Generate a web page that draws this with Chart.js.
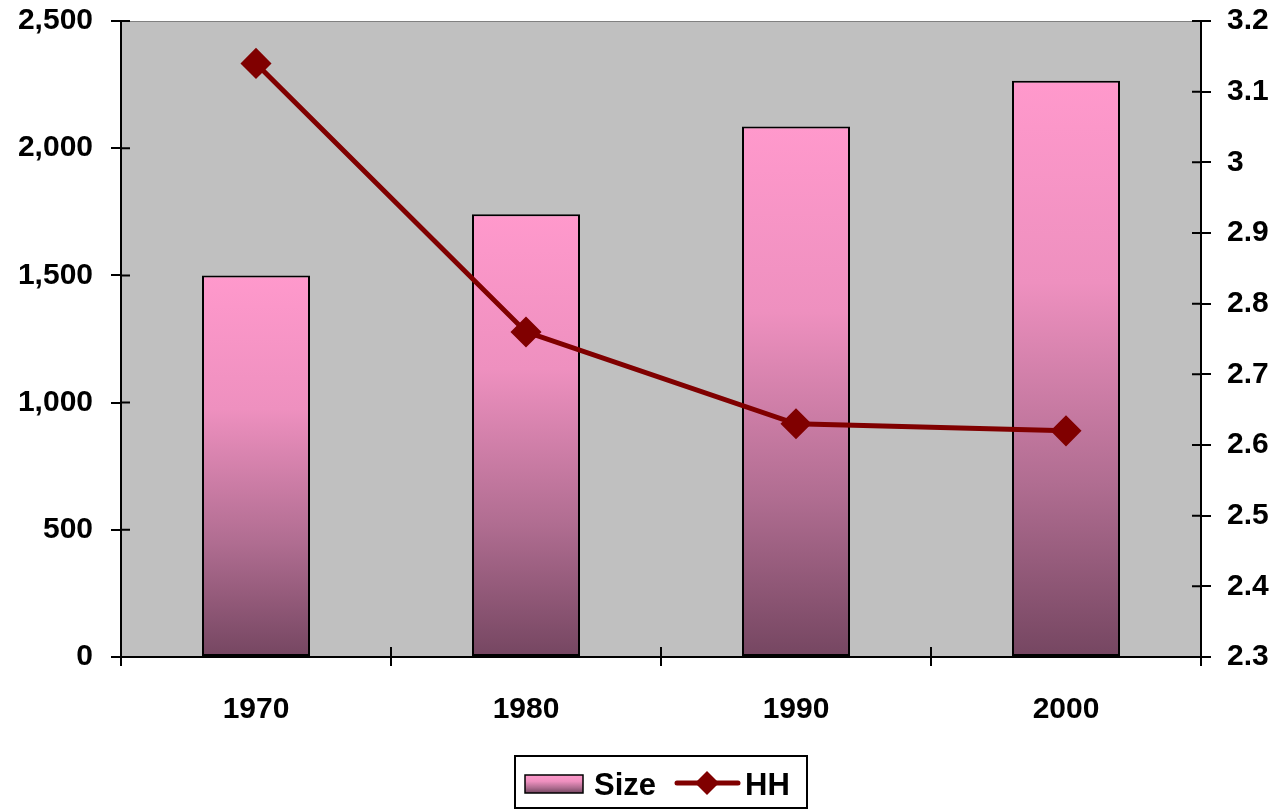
<!DOCTYPE html>
<html>
<head>
<meta charset="utf-8">
<script src="https://cdn.jsdelivr.net/npm/chart.js@4/dist/chart.umd.min.js"></script>
<style>
  html, body { margin: 0; padding: 0; background: #fff; }
  #wrap { width: 1287px; height: 809px; }
</style>
</head>
<body>
<div id="wrap"><canvas id="chart"></canvas></div>
<script>
// data
const years = ['1970', '1980', '1990', '2000'];
const sizeValues = [1500, 1740, 2085, 2265];
const hhValues = [3.14, 2.76, 2.63, 2.62];

const FONT = '"Liberation Sans", Arial, sans-serif';

function barGradient(ctx, top, bottom) {
  const g = ctx.createLinearGradient(0, top, 0, bottom);
  g.addColorStop(0, '#FF99CC');
  g.addColorStop(0.35, '#EE90BF');
  g.addColorStop(0.7, '#B06D91');
  g.addColorStop(1, '#754661');
  return g;
}

// gray plot area behind everything
const plotBg = {
  id: 'plotBg',
  beforeDraw(chart) {
    const { ctx, chartArea: a } = chart;
    ctx.save();
    ctx.fillStyle = '#C0C0C0';
    ctx.fillRect(a.left, a.top, a.right - a.left, a.bottom - a.top);
    ctx.strokeStyle = '#808080';
    ctx.lineWidth = 1;
    ctx.strokeRect(a.left + 0.5, a.top + 0.5, a.right - a.left - 1, a.bottom - a.top - 1);
    ctx.restore();
  }
};

// tick marks that cross into the plot + legend in a box
const extras = {
  id: 'extras',
  afterDraw(chart) {
    const { ctx, chartArea: a, scales } = chart;
    ctx.save();
    ctx.strokeStyle = '#000';
    ctx.lineWidth = 2;
    ctx.beginPath();
    scales.y.ticks.forEach((t, i) => {
      const y = scales.y.getPixelForTick(i);
      ctx.moveTo(a.left, y); ctx.lineTo(a.left + 9, y);
    });
    scales.y1.ticks.forEach((t, i) => {
      const y = scales.y1.getPixelForTick(i);
      ctx.moveTo(a.right, y); ctx.lineTo(a.right - 9, y);
    });
    for (let i = 0; i <= years.length; i++) {
      const x = a.left + (a.right - a.left) * i / years.length;
      ctx.moveTo(x, a.bottom); ctx.lineTo(x, a.bottom - 10);
    }
    ctx.stroke();

    // legend
    const bar = chart.data.datasets.find(d => d.type === 'bar');
    const line = chart.data.datasets.find(d => d.type === 'line');
    const bx = 515, by = 756, bw = 292, bh = 52;
    ctx.lineWidth = 2;
    ctx.strokeStyle = '#000';
    ctx.fillStyle = '#fff';
    ctx.fillRect(bx, by, bw, bh);
    ctx.strokeRect(bx, by, bw, bh);

    ctx.fillStyle = barGradient(ctx, 775, 793);
    ctx.fillRect(525, 775, 58, 18);
    ctx.lineWidth = 1.5;
    ctx.strokeRect(525, 775, 58, 18);

    ctx.font = 'bold 31px ' + FONT;
    ctx.fillStyle = '#000';
    ctx.textBaseline = 'middle';
    ctx.fillText(bar.label, 594, 786);

    ctx.strokeStyle = '#800000';
    ctx.lineWidth = 5;
    ctx.lineCap = 'round';
    ctx.beginPath();
    ctx.moveTo(677, 783); ctx.lineTo(738, 783);
    ctx.stroke();
    ctx.fillStyle = '#800000';
    ctx.beginPath();
    ctx.moveTo(707, 771); ctx.lineTo(719, 783); ctx.lineTo(707, 795); ctx.lineTo(695, 783);
    ctx.closePath();
    ctx.fill();

    ctx.fillStyle = '#000';
    ctx.fillText(line.label, 745, 786);
    ctx.restore();
  }
};

const ctx = document.getElementById('chart').getContext('2d');
new Chart(ctx, {
  data: {
    labels: years,
    datasets: [
      {
        type: 'line',
        label: 'HH',
        data: hhValues,
        yAxisID: 'y1',
        borderColor: '#800000',
        backgroundColor: '#800000',
        borderWidth: 5,
        pointStyle: 'rectRot',
        pointRadius: 12,
        pointHoverRadius: 12,
        tension: 0,
        order: 0
      },
      {
        type: 'bar',
        label: 'Size',
        data: sizeValues,
        yAxisID: 'y',
        borderColor: '#000',
        borderWidth: 2,
        borderSkipped: false,
        categoryPercentage: 1,
        barPercentage: 0.4,
        order: 1,
        backgroundColor: function(c) {
          const chart = c.chart;
          if (!chart.chartArea || c.type !== 'data') return '#FF99CC';
          const y = chart.scales.y;
          return barGradient(chart.ctx, y.getPixelForValue(c.parsed.y), y.getPixelForValue(0));
        }
      }
    ]
  },
  options: {
    responsive: true,
    maintainAspectRatio: false,
    animation: false,
    layout: { padding: { top: 0, left: 0, right: 0, bottom: 0 } },
    plugins: {
      legend: { display: false },
      tooltip: { enabled: false }
    },
    scales: {
      x: {
        offset: true,
        grid: { display: true, offset: true, drawOnChartArea: false, drawTicks: true, tickLength: 9, color: '#000', lineWidth: 2 },
        border: { display: true, color: '#000', width: 2 },
        ticks: { color: '#000', font: { family: FONT, size: 30, weight: 'bold' }, padding: 26 },
        afterFit(s) { s.height = 152; }
      },
      y: {
        position: 'left',
        min: 0,
        max: 2500,
        ticks: {
          stepSize: 500,
          color: '#000',
          font: { family: FONT, size: 30, weight: 'bold', lineHeight: 0.2 },
          padding: 18,
          callback: v => v.toLocaleString('en-US')
        },
        grid: { drawOnChartArea: false, drawTicks: true, tickLength: 10, color: '#000', lineWidth: 2 },
        border: { display: true, color: '#000', width: 2 },
        afterFit(s) { s.width = 121; }
      },
      y1: {
        position: 'right',
        min: 2.3,
        max: 3.2,
        ticks: {
          stepSize: 0.1,
          color: '#000',
          font: { family: FONT, size: 30, weight: 'bold', lineHeight: 0.2 },
          padding: 16,
          callback: v => String(Math.round(v * 10) / 10)
        },
        grid: { drawOnChartArea: false, drawTicks: true, tickLength: 10, color: '#000', lineWidth: 2 },
        border: { display: true, color: '#000', width: 2 },
        afterFit(s) { s.width = 86; }
      }
    }
  },
  plugins: [plotBg, extras]
});
</script>
</body>
</html>
